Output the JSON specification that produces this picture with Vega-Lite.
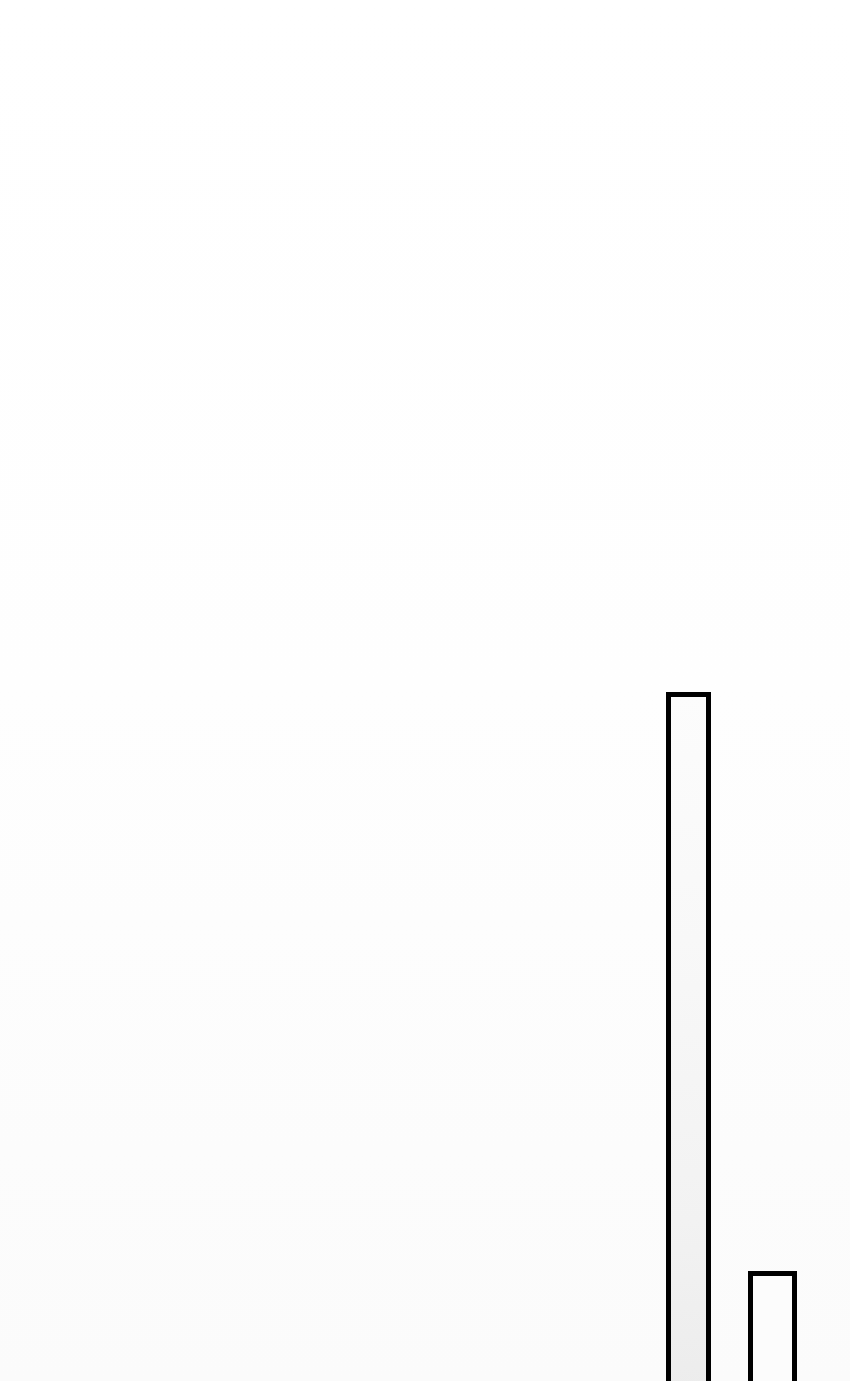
{
  "$schema": "https://vega.github.io/schema/vega-lite/v6.json",
  "width": 850,
  "height": 1381,
  "padding": 0,
  "autosize": {"type": "fit", "contains": "padding"},
  "background": "#ffffff",
  "config": {
    "view": {
      "stroke": null,
      "fill": {"gradient": "linear", "x1": 0, "y1": 0, "x2": 0, "y2": 1, "stops": [{"offset": 0, "color": "#ffffff"}, {"offset": 0.5, "color": "#fefefe"}, {"offset": 1, "color": "#fbfbfb"}]}
    }
  },
  "data": {
    "values": [
      {"bar": "A", "start": 668.5, "end": 708.5, "value": 49.71},
      {"bar": "B", "start": 750.5, "end": 794.5, "value": 7.78}
    ]
  },
  "encoding": {
    "x": {"field": "start", "type": "quantitative", "scale": {"domain": [0, 850], "nice": false, "zero": false}, "axis": null},
    "x2": {"field": "end"},
    "y": {"field": "value", "type": "quantitative", "scale": {"domain": [0, 100], "nice": false, "zero": false}, "axis": null},
    "y2": {"datum": -1}
  },
  "layer": [
    {
      "transform": [{"filter": "datum.bar === 'A'"}],
      "mark": {
        "type": "rect",
        "clip": true,
        "stroke": "#000000",
        "strokeWidth": 5,
        "fill": {"gradient": "linear", "x1": 0, "y1": 0, "x2": 0, "y2": 1, "stops": [{"offset": 0, "color": "#fcfcfc"}, {"offset": 0.35, "color": "#f8f8f8"}, {"offset": 0.75, "color": "#f2f2f2"}, {"offset": 1, "color": "#ececec"}]}
      }
    },
    {
      "transform": [{"filter": "datum.bar === 'B'"}],
      "mark": {
        "type": "rect",
        "clip": true,
        "stroke": "#000000",
        "strokeWidth": 5,
        "fill": "#fcfcfc"
      }
    }
  ]
}
